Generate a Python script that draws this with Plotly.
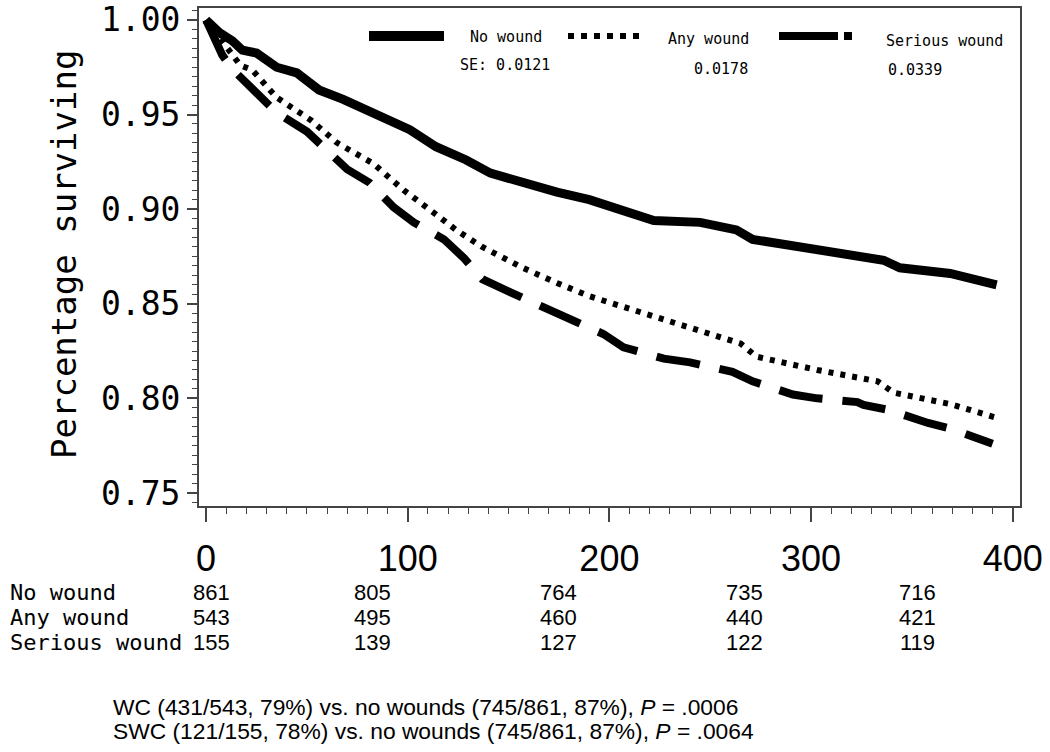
import plotly.graph_objects as go

# ---------------- data ----------------
no_wound_t = [0, 7, 13, 18, 25, 35, 45, 56, 68, 83, 90, 101, 114, 129, 141, 157, 174, 190, 199,
              222, 245, 263, 271, 294, 319, 336, 344, 369, 392]
no_wound_s = [1.000, 0.993, 0.989, 0.984, 0.9825, 0.975, 0.972, 0.963, 0.958, 0.951, 0.947, 0.942,
              0.933, 0.926, 0.919, 0.914, 0.909, 0.905, 0.902, 0.894, 0.893, 0.889, 0.884, 0.880,
              0.875, 0.873, 0.869, 0.866, 0.860]

any_wound_t = [0, 7, 13, 17, 23, 27, 31, 35, 52, 65, 83, 98, 113, 124, 137, 157, 174, 190, 199,
               217, 245, 265, 273, 303, 333, 341, 369, 391]
any_wound_s = [1.000, 0.990, 0.9815, 0.976, 0.9735, 0.969, 0.964, 0.959, 0.947, 0.935, 0.924,
               0.910, 0.898, 0.889, 0.880, 0.869, 0.861, 0.854, 0.851, 0.845, 0.835, 0.829, 0.822,
               0.815, 0.809, 0.803, 0.797, 0.790]

serious_t = [0, 8, 13, 28, 35, 50, 58, 70, 81, 93, 103, 118, 128, 137, 151, 167, 180, 197, 207,
             227, 240, 261, 271, 291, 303, 323, 326, 338, 358, 369, 390]
serious_s = [1.000, 0.9815, 0.974, 0.959, 0.951, 0.941, 0.933, 0.921, 0.914, 0.901, 0.893, 0.884,
             0.874, 0.863, 0.856, 0.848, 0.842, 0.834, 0.827, 0.821, 0.819, 0.814, 0.809, 0.802,
             0.800, 0.798, 0.7965, 0.794, 0.787, 0.784, 0.776]

group_names = ["No wound", "Any wound", "Serious wound"]
se_labels = ["SE: 0.0121", "0.0178", "0.0339"]
at_risk = {
    "No wound": [861, 805, 764, 735, 716],
    "Any wound": [543, 495, 460, 440, 421],
    "Serious wound": [155, 139, 127, 122, 119],
}
x_ticks = [0, 100, 200, 300, 400]
y_ticks = [0.75, 0.80, 0.85, 0.90, 0.95, 1.00]
notes = [
    "WC (431/543, 79%) vs. no wounds (745/861, 87%), <i>P</i> = .0006",
    "SWC (121/155, 78%) vs. no wounds (745/861, 87%), <i>P</i> = .0064",
]

# ---------------- layout helpers (page pixel -> paper) ----------------
L, R, T, B = 199, 1020, 8, 506  # plot box in page pixels
W, H = 1050, 752


def px(xp):
    return (xp - L) / (R - L)


def py(yp):
    return (B - yp) / (B - T)


MONO = "DejaVu Sans Mono"
SANS = "Liberation Sans, Arial"


def ann(text, x, y, size, family, xanchor="center", angle=0):
    return dict(text=text, x=px(x), y=py(y), xref="paper", yref="paper", showarrow=False,
                xanchor=xanchor, yanchor="middle", textangle=angle,
                font=dict(family=family, size=size, color="black"))


fig = go.Figure()
fig.add_trace(go.Scatter(x=no_wound_t, y=no_wound_s, mode="lines", name=group_names[0],
                         line=dict(color="black", width=9), showlegend=False))
fig.add_trace(go.Scatter(x=any_wound_t, y=any_wound_s, mode="lines", name=group_names[1],
                         line=dict(color="black", width=6, dash="5px,7px"), showlegend=False))
fig.add_trace(go.Scatter(x=serious_t, y=serious_s, mode="lines", name=group_names[2],
                         line=dict(color="black", width=8, dash="44px,20px"), showlegend=False))

annotations = []
shapes = []

# legend samples inside plot
shapes.append(dict(type="line", xref="paper", yref="paper", x0=px(369), x1=px(444),
                   y0=py(36), y1=py(36), line=dict(color="black", width=10)))
shapes.append(dict(type="line", xref="paper", yref="paper", x0=px(568), x1=px(642),
                   y0=py(36), y1=py(36), line=dict(color="black", width=6, dash="6px,7px")))
shapes.append(dict(type="line", xref="paper", yref="paper", x0=px(779), x1=px(852),
                   y0=py(36), y1=py(36), line=dict(color="black", width=8, dash="59px,6px")))

leg_pos = [(506, 37), (708, 39), (944, 41)]
se_pos = [(505, 65), (721, 69), (915, 70)]
for name, (lx, ly) in zip(group_names, leg_pos):
    annotations.append(ann(name, lx, ly, 15, MONO))
for se, (lx, ly) in zip(se_labels, se_pos):
    annotations.append(ann(se, lx, ly, 15, MONO))

# y-axis title
annotations.append(ann("Percentage surviving", 64, 255, 34, MONO, angle=-90))

# at-risk table
row_y = [592, 617, 643]
col_x = [211, 372, 558, 744, 917]
for name, ry in zip(group_names, row_y):
    annotations.append(ann(name, 8, ry, 22, MONO, xanchor="left"))
    for val, cx in zip(at_risk[name], col_x):
        annotations.append(ann(str(val), cx, ry, 22, SANS))

# bottom notes
for note, ny in zip(notes, [707, 731]):
    annotations.append(ann(note, 111, ny, 22.8, SANS, xanchor="left"))

fig.update_layout(
    width=W, height=H,
    margin=dict(l=L, r=W - R, t=T, b=H - B, pad=0, autoexpand=False),
    paper_bgcolor="white", plot_bgcolor="white",
    annotations=annotations, shapes=shapes,
    xaxis=dict(range=[-3.5, 403.6], tickvals=x_ticks, ticktext=[str(v) for v in x_ticks],
               automargin=False, ticklabeloverflow="allow",
               showgrid=False, zeroline=False, showline=True, mirror=True,
               linecolor="#444", linewidth=2, ticks="outside", ticklen=14, tickwidth=1.5,
               tickcolor="#444", tickfont=dict(family=SANS, size=36, color="black"),
               ticklabelstandoff=6,
               minor=dict(dtick=10, tick0=0, ticks="outside", ticklen=6, tickcolor="#444",
                          tickwidth=1.2, showgrid=False)),
    yaxis=dict(range=[0.7431, 1.0063], tickvals=y_ticks, ticktext=[f"{v:.2f}" for v in y_ticks],
               automargin=False, ticklabeloverflow="allow",
               showgrid=False, zeroline=False, showline=True, mirror=True,
               linecolor="#444", linewidth=2, ticks="outside", ticklen=10, tickwidth=1.5,
               tickcolor="#444", tickfont=dict(family=MONO, size=33, color="black"),
               ticklabelstandoff=0,
               minor=dict(dtick=0.005, tick0=0.75, ticks="outside", ticklen=5, tickcolor="#444",
                          tickwidth=1.2, showgrid=False)),
)

fig.write_html("out.html", config={"displayModeBar": False},
               post_script="document.body.style.margin='0';document.body.style.padding='0';")
